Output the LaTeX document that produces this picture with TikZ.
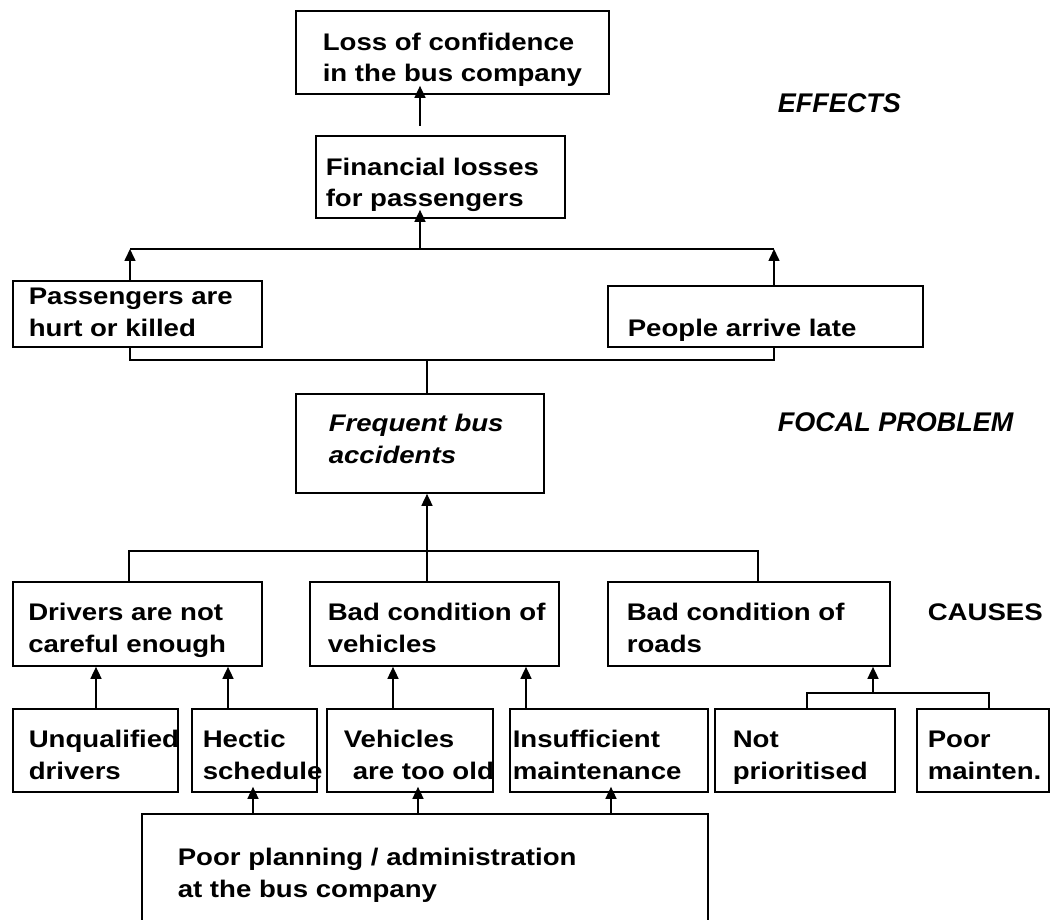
\documentclass[tikz,border=0pt]{standalone}
\usepackage{fontspec}
\setmainfont{Liberation Sans}
\newfontfamily\boxfont[FakeStretch=1.15]{Liberation Sans}
\usetikzlibrary{arrows.meta}
\tikzset{box/.style 2 args = {draw, line width = 1.7pt, inner sep = 0,
                              minimum width = #1, minimum height = #2}}
\tikzset{txt/.style = {anchor = base west, inner sep = 0, align = left,
                       font = \boxfont\bfseries\fontsize{24pt}{31.5pt}\selectfont}}
\tikzset{lbl/.style = {anchor = base west, inner sep = 0,
                       font = \bfseries\itshape\fontsize{27pt}{31pt}\selectfont}}

\begin{document}
\begin{tikzpicture}[x = 1pt, y = -1pt, line width = 1.6pt,
                    >={Triangle[length = 12pt, width = 11pt]}]
        \clip (0, 0) rectangle (1053, 920);

        % effects (text nodes sit on the baseline of their last line)
        \node [box = {313pt}{83pt}] (loss) at (452.5, 52.5) {};
        \node [txt] (loss-t) at (322, 82) {Loss of confidence\\in the bus company};
        \node [box = {249pt}{82pt}] (fin) at (440.5, 177) {};
        \node [txt] (fin-t) at (325, 207) {Financial losses\\for passengers};
        \node [box = {249pt}{66pt}] (pas) at (137.5, 314) {};
        \node [txt] (pas-t) at (28, 336) {Passengers are\\hurt or killed};
        \node [box = {315pt}{61pt}] (late) at (765.5, 316.5) {};
        \node [txt] (late-t) at (627, 336) {People arrive late};
        \node [lbl] (effects) at (777, 113) {EFFECTS};

        \coordinate (fa) at (420, 126);
        \coordinate (eL) at (130, 249);
        \coordinate (eM) at (420, 249);
        \coordinate (eR) at (774, 249);
        \draw [->, shorten >= -9pt] (fa) -- (fa |- loss.south);
        \draw [->, shorten >= -9pt] (eM) -- (eM |- fin.south);
        \draw (eL) -- (eR);
        \draw [->] (eL |- pas.north) -- (eL);
        \draw [->] (eR |- late.north) -- (eR);

        % focal problem
        \node [box = {248pt}{99pt}] (freq) at (420, 443.5) {};
        \node [txt, font = \boxfont\bfseries\itshape\fontsize{24pt}{31.5pt}\selectfont]
              (freq-t) at (328, 463) {Frequent bus\\accidents};
        \node [lbl] (focal) at (777, 431) {FOCAL PROBLEM};

        \coordinate (fM) at (427, 360);
        \draw (pas.south -| eL) |- (fM) -| (late.south -| eR);
        \draw (fM) -- (fM |- freq.north);

        % causes
        \node [box = {249pt}{84pt}] (drv) at (137.5, 624) {};
        \node [txt] (drv-t) at (27.5, 652) {Drivers are not\\careful enough};
        \node [box = {249pt}{84pt}] (veh) at (434.5, 624) {};
        \node [txt] (veh-t) at (327, 652) {Bad condition of\\vehicles};
        \node [box = {282pt}{84pt}] (road) at (749, 624) {};
        \node [txt] (road-t) at (626, 652) {Bad condition of\\roads};
        \node [txt] (causes) at (927, 620) {CAUSES};

        \coordinate (cL) at (129, 551);
        \coordinate (cM) at (427, 551);
        \coordinate (cR) at (758, 551);
        \draw [->] (cM) -- (cM |- freq.south);
        \draw (cL |- drv.north) -- (cL) -- (cR) -- (cR |- road.north);
        \draw (cM) -- (cM |- veh.north);

        \node [box = {165pt}{83pt}] (unq) at (95.5, 750.5) {};
        \node [txt] (unq-t) at (28, 779) {Unqualified\\drivers};
        \node [box = {125pt}{83pt}] (hec) at (254.5, 750.5) {};
        \node [txt] (hec-t) at (202, 779) {Hectic\\schedule};
        \node [box = {166pt}{83pt}] (old) at (410, 750.5) {};
        \node [txt] (old-t) at (343, 779) {Vehicles\\\hspace*{9pt}are too old};
        \node [box = {198pt}{83pt}] (ins) at (609, 750.5) {};
        \node [txt] (ins-t) at (512, 779) {Insufficient\\maintenance};
        \node [box = {180pt}{83pt}] (notp) at (805, 750.5) {};
        \node [txt] (notp-t) at (732, 779) {Not\\prioritised};
        \node [box = {132pt}{83pt}] (poorm) at (983, 750.5) {};
        \node [txt] (poorm-t) at (927, 779) {Poor\\mainten.};

        \foreach \a/\b/\x in {unq/drv/96, hec/drv/228, old/veh/393, ins/veh/526}
                \draw [->] (\a.north -| \x, 0) -- (\b.south -| \x, 0);

        \coordinate (rM) at (873, 693);
        \draw (notp.north -| 807, 0) |- (rM) -| (poorm.north -| 989, 0);
        \draw [->] (rM) -- (rM |- road.south);

        \node [box = {566pt}{116pt}] (plan) at (425, 872) {};
        \node [txt] (plan-t) at (177, 897) {Poor planning / administration\\at the bus company};

        \foreach \a/\x in {hec/253, old/418, ins/611}
                \draw [->, shorten >= -6pt] (plan.north -| \x, 0) -- (\a.south -| \x, 0);
\end{tikzpicture}
\end{document}
